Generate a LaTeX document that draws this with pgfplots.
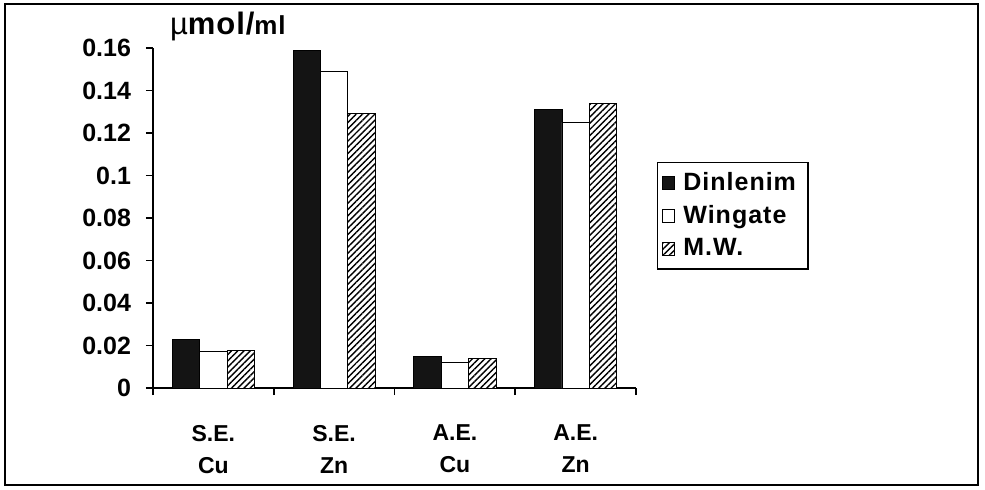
\documentclass[border=0pt]{standalone}
\usepackage{fontspec}
\setmainfont{Liberation Sans}
\usepackage{pgfplots}
\pgfplotsset{compat=1.18}
\usetikzlibrary{patterns.meta}

\begin{document}
\begin{tikzpicture}[x=1pt,y=1pt]
\useasboundingbox (0,0) rectangle (492.5,244.5);
\draw[line width=1pt] (2.5,2) rectangle (489,242.5);
\begin{axis}[
    at={(76.5pt,50.5pt)}, anchor=south west,
    width=241.5pt, height=170pt, scale only axis,
    xmin=0.5, xmax=4.5, ymin=0, ymax=0.16,
    clip=false,
    axis lines*=left,
    axis line style={line width=0.8pt},
    ybar=0pt, bar width=13.7pt,
    xtick={0.5,1.5,2.5,3.5,4.5},
    xticklabels={},
    extra x ticks={1,2,3,4},
    extra x tick labels={{S.E.\\Cu},{S.E.\\Zn},{A.E.\\Cu},{A.E.\\Zn}},
    extra x tick style={major tick length=0pt,
        tick label style={align=center, font=\fontsize{11.5}{16}\selectfont\bfseries, yshift=-15pt}},
    ytick={0,0.02,0.04,0.06,0.08,0.1,0.12,0.14,0.16},
    yticklabel style={/pgf/number format/fixed, /pgf/number format/precision=2,
        font=\fontsize{12.5}{14}\selectfont\bfseries, xshift=-4pt},
    /pgf/number format/assume math mode=true,
    major tick length=3.5pt, tick align=outside,
    tick style={line width=0.8pt, black},
    legend style={at={(1.0435,0.665)}, anchor=north west, draw=black, line width=0.6pt,
        font=\fontsize{12.5}{14}\selectfont\bfseries\addfontfeature{LetterSpace=4}, inner xsep=2pt, inner ysep=3pt,
        row sep=2pt, nodes={inner xsep=4pt}},
    legend cell align=left,
    legend image code/.code={\draw[#1, line width=0.5pt] (0pt,-3.2pt) rectangle (6.4pt,3.2pt);},
]
\addplot[draw=black, fill=black!92] coordinates {(1,0.023) (2,0.159) (3,0.015) (4,0.131)};
\addplot[draw=black, fill=white] coordinates {(1,0.017) (2,0.149) (3,0.012) (4,0.125)};
\addplot[draw=black, fill=white, postaction={pattern={Lines[angle=45,distance=2.2pt,line width=0.7pt]}}]
    coordinates {(1,0.0175) (2,0.129) (3,0.014) (4,0.134)};
\legend{Dinlenim, Wingate, M.W.}
\node[font=\fontsize{15.5}{17}\selectfont\bfseries\addfontfeature{LetterSpace=3}] at (rel axis cs:0.155,1) [yshift=11pt]
    {{\mdseries µ}mol/{\fontsize{13}{15}\selectfont ml}};
\end{axis}
\end{tikzpicture}
\end{document}
